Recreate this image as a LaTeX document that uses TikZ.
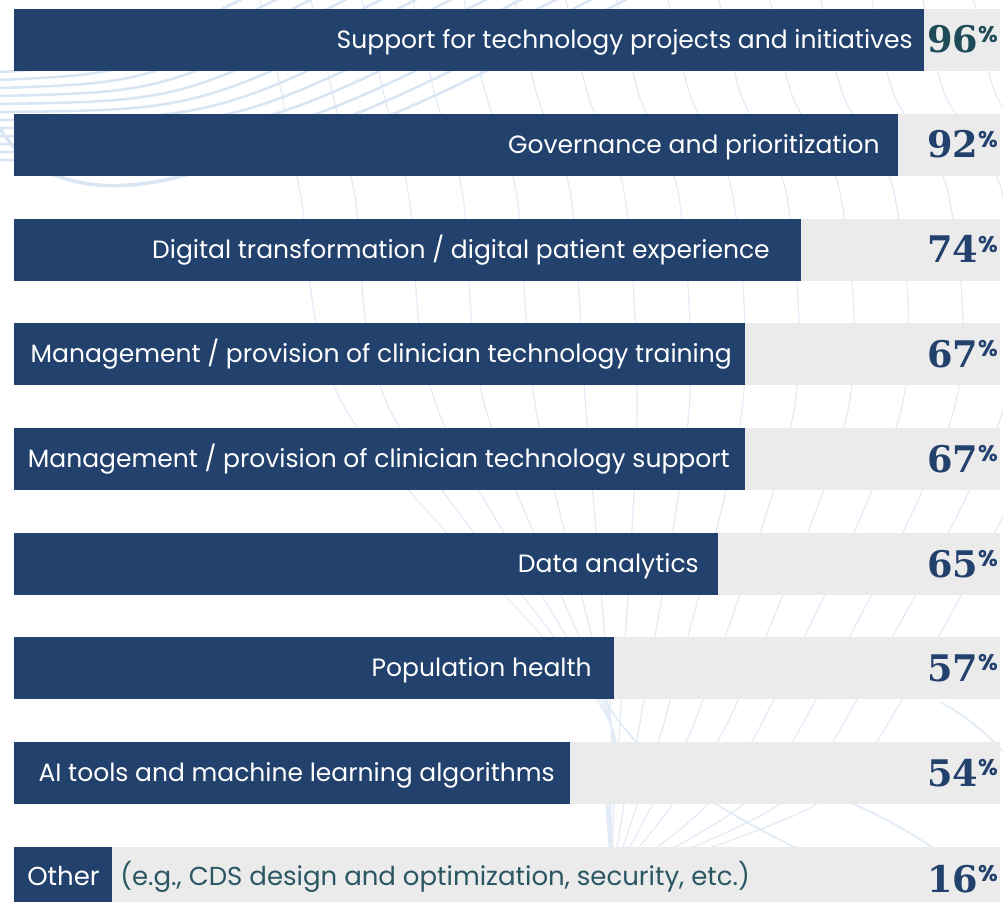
\documentclass[tikz,border=0pt]{standalone}
\usepackage{fontspec}
\setmainfont{Poppins}
\newfontfamily\numfont{DejaVu Serif}
\definecolor{navy}{HTML}{23416D}
\definecolor{trackgrey}{HTML}{EBEBEB}
\definecolor{tealdark}{HTML}{1F4B58}
\definecolor{tealtext}{HTML}{2B5763}
\definecolor{meridian}{HTML}{E2EBF6}
\definecolor{latline}{HTML}{D9E5F3}
\newcommand{\lblfont}{\fontsize{18.75pt}{22pt}\selectfont}
\newcommand{\otherfont}{\fontsize{19.5pt}{22pt}\selectfont}
\newcommand{\pctnum}[1]{{\numfont\bfseries\fontsize{27.5pt}{30pt}\selectfont #1\raisebox{7.8pt}{\normalfont\bfseries\fontsize{17pt}{18pt}\selectfont\%}}}
\begin{document}
\begin{tikzpicture}[x=0.75pt,y=-0.75pt,
  barfill/.style={fill=navy,draw=none},
  trackfill/.style={fill=trackgrey,draw=none},
  lbl/.style={text=white,font=\lblfont,anchor=base east,inner sep=0pt},
  pct/.style={text=navy,anchor=base east,inner sep=0pt},
  mer/.style={draw=meridian,line width=0.9pt},
  lat/.style={draw=latline,line width=1.9pt}]
\useasboundingbox (0,0) rectangle (1003,902);
\clip (0,0) rectangle (1003,902);
% background globe decoration
\foreach \a/\b/\c/\d/\e/\f in {
 260/282/301/346/600/606, 311/333/355/390/602/607, 362/384/409/438/604/608,
 413/435/463/486/606/609, 464/486/517/536/608/610, 515/537/571/586/610/611,
 566/588/625/637/621/614, 617/639/679/689/643/624, 668/690/733/742/669/637,
 719/741/787/794/701/652, 770/792/841/848/736/672, 821/843/895/901/771/707,
 872/894/949/954/813/742, 923/945/1003/1003/854/778, 974/996/1057/1050/899/815}
 { \draw[mer] plot[smooth] coordinates {(\a,0) (\b,95) (\c,197) (\d,410) (\e,705) (\f,805) (612,880)}; }
\foreach \i in {0,...,11}
 { \draw[lat] (0,72+8*\i) .. controls (110+18*\i,65+9*\i) .. (250+35*\i,-5); }
\draw[lat,line width=2.6pt] (-10,110) .. controls (30,200) and (130,200) .. (230,160);
\draw[mer,line width=1.4pt] (605,700) .. controls (640,760) and (700,800) .. (800,850);
\draw[mer,line width=1.4pt] (826,792) .. controls (870,810) and (910,830) .. (950,860);
\draw[mer,line width=1.4pt] (940,702) .. controls (965,715) and (990,735) .. (1010,760);
% tracks and bars
\foreach \t/\r in {9/924,114/898,219/801,323/745,428/745,533/718,637/614,742/570,847/112}
 { \fill[trackfill] (14,\t) rectangle (1000,\t+62);
   \fill[barfill] (14,\t) rectangle (\r,\t+62); }
% labels
\node[lbl] (l1) at (913,48.5) {Support for technology projects and initiatives};
\node[lbl] (l2) at (880,153.5) {Governance and prioritization};
\node[lbl] (l3) at (770,258.5) {Digital transformation / digital patient experience};
\node[lbl] (l4) at (732,362.5) {Management / provision of clinician technology training};
\node[lbl] (l5) at (730,467.5) {Management / provision of clinician technology support};
\node[lbl] (l6) at (699,572.5) {Data analytics};
\node[lbl] (l7) at (592,676.5) {Population health};
\node[lbl] (l8) at (555,781.5) {AI tools and machine learning algorithms};
\node[lbl,font=\otherfont,anchor=base west] (l9) at (27,885) {Other};
\node[lbl,font=\otherfont,anchor=base west,text=tealtext] (l9b) at (120,885) {(e.g., CDS design and optimization, security, etc.)};
% percentages
\node[pct,text=tealdark] (p1) at (998,53) {\pctnum{96}};
\node[pct] (p2) at (998,158) {\pctnum{92}};
\node[pct] (p3) at (998,263) {\pctnum{74}};
\node[pct] (p4) at (998,367) {\pctnum{67}};
\node[pct] (p5) at (998,472) {\pctnum{67}};
\node[pct] (p6) at (998,577) {\pctnum{65}};
\node[pct] (p7) at (998,681) {\pctnum{57}};
\node[pct] (p8) at (998,786) {\pctnum{54}};
\node[pct] (p9) at (998,892) {\pctnum{16}};
\end{tikzpicture}
\end{document}
